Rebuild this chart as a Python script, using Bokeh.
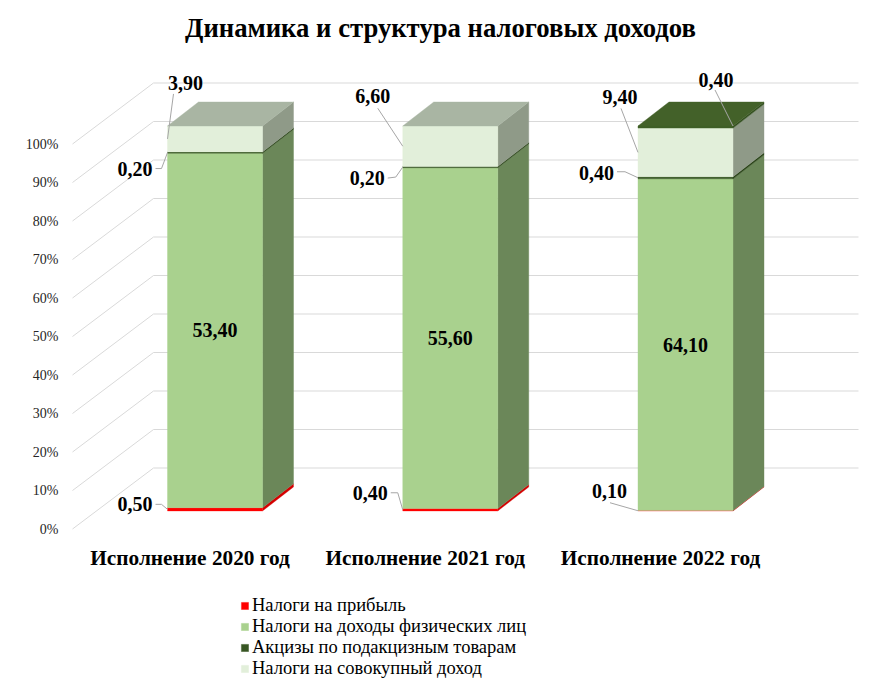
from bokeh.plotting import figure
from bokeh.models import Range1d, FixedTicker, PrintfTickFormatter, Legend, LegendItem, ColumnDataSource
from bokeh.core.properties import value
from bokeh.embed import file_html
from bokeh.resources import INLINE

# ---------------- data ----------------
chart_title = "Динамика и структура налоговых доходов"
categories = ["Исполнение 2020 год", "Исполнение 2021 год", "Исполнение 2022 год"]
series_names = ["Налоги на прибыль", "Налоги на доходы физических лиц",
                "Акцизы по подакцизным товарам", "Налоги на совокупный доход", "Прочие"]
profit_tax = [0.50, 0.40, 0.10]
personal_income_tax = [53.40, 55.60, 64.10]
excises = [0.20, 0.20, 0.40]
aggregate_income_tax = [3.90, 6.60, 9.40]
other_taxes = [0.0, 0.0, 0.40]
y_ticks = [0, 10, 20, 30, 40, 50, 60, 70, 80, 90, 100]
legend_count = 4

series_values = [profit_tax, personal_income_tax, excises, aggregate_income_tax, other_taxes]

# ---------------- style ----------------
FONT = "Liberation Serif"
front_colors = ["#ff0000", "#a9d18e", "#375623", "#e2efda", "#3f5f27"]
side_colors = ["#d40000", "#6b8759", "#2b4519", "#8f9a88", "#33501f"]
top_colors = ["#ff4040", "#8fb077", "#436129", "#a9b5a3", "#436129"]
edge_width = [0.3, 0.4, 0.4, 0.4, 0.4]

W, H = 864, 689
LEFT = 70
XPX = 235.25          # px per category
YPX = 3.85            # px per percent
ORIGIN_X = 214.5      # px of first category centre
ORIGIN_Y = 528.5      # px of 0 % on the front plane (from figure top)

frame_w = W - LEFT
x_start = (LEFT - ORIGIN_X) / XPX
x_end = x_start + frame_w / XPX
y_end = ORIGIN_Y / YPX
y_start = y_end - H / YPX

BW = 95 / XPX
DX = 31 / XPX
DY = 24 / YPX
LIFT = 18 / YPX
WALL_X0 = (72 - ORIGIN_X) / XPX
WALL_DX = 81 / XPX
WALL_DY = 61 / YPX
GRID_X1 = (858 - ORIGIN_X) / XPX

p = figure(width=W, height=H, output_backend="svg", toolbar_location=None,
           x_range=Range1d(x_start, x_end), y_range=Range1d(y_start, y_end),
           min_border_left=LEFT, min_border_right=0, min_border_top=0, min_border_bottom=0)
p.xaxis.visible = False
p.xgrid.visible = False
p.ygrid.visible = False
p.outline_line_color = None
p.background_fill_color = "white"

yax = p.yaxis[0]
yax.ticker = FixedTicker(ticks=y_ticks)
yax.formatter = PrintfTickFormatter(format="%d%%")
yax.axis_line_color = None
yax.major_tick_line_color = None
yax.minor_tick_line_color = None
yax.major_label_standoff = 6
yax.major_label_text_font = FONT
yax.major_label_text_font_size = "14px"
yax.major_label_text_color = "#262626"

# ---------------- grid (side wall + back wall) ----------------
gx, gy = [], []
for t in y_ticks:
    gx.append([WALL_X0, WALL_X0 + WALL_DX, GRID_X1])
    gy.append([t, t + WALL_DY, t + WALL_DY])
p.multi_line(gx, gy, line_color="#d9d9d9", line_width=1)

# ---------------- bars ----------------
n = len(categories)
totals = [sum(s[i] for s in series_values) for i in range(n)]
pct = [[s[i] / totals[i] * 100 for i in range(n)] for s in series_values]

bottoms = [[0.0] * n for _ in series_values]
tops = [[0.0] * n for _ in series_values]
for i in range(n):
    acc = LIFT
    for k in range(len(series_values)):
        bottoms[k][i] = acc
        acc += pct[k][i]
        tops[k][i] = acc

front_renderers = []
for k in range(len(series_values)):
    idx = [i for i in range(n) if series_values[k][i] > 0]
    src = ColumnDataSource(dict(
        left=[i - BW / 2 for i in idx], right=[i + BW / 2 for i in idx],
        bottom=[bottoms[k][i] for i in idx], top=[tops[k][i] for i in idx]))
    sx = [[i + BW / 2, i + BW / 2 + DX, i + BW / 2 + DX, i + BW / 2] for i in idx]
    sy = [[bottoms[k][i], bottoms[k][i] + DY, tops[k][i] + DY, tops[k][i]] for i in idx]
    p.patches(sx, sy, fill_color=side_colors[k], line_color=side_colors[k],
              line_width=edge_width[k])
    r = p.quad(left="left", right="right", bottom="bottom", top="top", source=src,
               fill_color=front_colors[k], line_color=front_colors[k],
               line_width=edge_width[k])
    front_renderers.append(r)

# top faces
tx, ty, tc = [], [], []
for i in range(n):
    top_k = max(k for k in range(len(series_values)) if series_values[k][i] > 0)
    T = tops[top_k][i]
    x0, x1 = i - BW / 2, i + BW / 2
    tx.append([x0, x1, x1 + DX, x0 + DX])
    ty.append([T, T, T + DY, T + DY])
    tc.append(top_colors[top_k])
p.patches(tx, ty, fill_color=tc, line_color=tc, line_width=0.4)

# ---------------- data labels ----------------
def fmt(v):
    return f"{v:.2f}".replace(".", ",")

# (bar, series): label offset px (dx, dy downwards), align, leader points px relative to anchor
placements = {
    (0, 0): ((-15, -5), "right", [(-12, -5), (-6, -5)]),
    (0, 2): ((-15, 16), "right", [(-12, 16), (-6, 16)]),
    (0, 3): ((18, -56), "center", [(6, -45)]),
    (1, 0): ((-15, -17), "right", [(-12, -17), (-5, -17)]),
    (1, 2): ((-18, 11), "right", [(-15, 11), (-7, 10)]),
    (1, 3): ((-30, -50), "center", [(-25, -38)]),
    (2, 0): ((-11, -20), "right", [(-28, -8)]),
    (2, 2): ((-24, -5), "right", [(-21, -6), (-13, -6)]),
    (2, 3): ((-18, -55), "center", [(-17, -44)]),
    (2, 4): ((-17, -46), "center", [(-18, -36)]),
}

lab_x, lab_y, lab_t, lab_xo, lab_yo, lab_align = [], [], [], [], [], []
lx, ly = [], []
for i in range(n):
    for k in range(len(series_values)):
        v = series_values[k][i]
        if v <= 0:
            continue
        if k == 1:
            lab_x.append(i)
            lab_y.append((bottoms[k][i] + tops[k][i]) / 2)
            lab_t.append(fmt(v))
            lab_xo.append(0)
            lab_yo.append(0)
            lab_align.append("center")
            continue
        (ox, oy), al, lead = placements[(i, k)]
        if k == 4:
            ax, ay = i + BW / 2, tops[k][i]
        else:
            ax, ay = i - BW / 2, (bottoms[k][i] + tops[k][i]) / 2
        lab_x.append(ax)
        lab_y.append(ay)
        lab_t.append(fmt(v))
        lab_xo.append(ox)
        lab_yo.append(oy)
        lab_align.append(al)
        lx.append([ax + px / XPX for px, _ in lead] + [ax])
        ly.append([ay - py / YPX for _, py in lead] + [ay])

p.multi_line(lx, ly, line_color="#a6a6a6", line_width=1)
p.text(x="x", y="y", text="t", x_offset="xo", y_offset="yo", text_align="al",
       source=ColumnDataSource(dict(x=lab_x, y=lab_y, t=lab_t, xo=lab_xo, yo=lab_yo, al=lab_align)),
       text_baseline="middle", text_font=value(FONT), text_font_style="bold",
       text_font_size="20px", text_color="black")

# ---------------- category labels ----------------
p.text(x=[i - 25 / XPX for i in range(n)], y=[-29 / YPX] * n, text=categories,
       text_align="center", text_baseline="middle", text_font=value(FONT),
       text_font_style="bold", text_font_size="21.3px", text_color="black")

# ---------------- title ----------------
p.text(x=[(440 - ORIGIN_X) / XPX], y=[(ORIGIN_Y - 27) / YPX], text=[chart_title],
       text_align="center", text_baseline="middle", text_font=value(FONT),
       text_font_style="bold", text_font_size="26.7px", text_color="black")

# ---------------- legend ----------------
legend = Legend(items=[LegendItem(label=series_names[k], renderers=[front_renderers[k]])
                       for k in range(legend_count)],
                location=(170, 10), orientation="vertical",
                glyph_width=9, glyph_height=9, label_standoff=3,
                label_text_font=FONT, label_text_font_size="18.5px", label_height=20,
                label_text_color="black",
                spacing=0, padding=0, margin=0, border_line_color=None,
                background_fill_alpha=0)
p.add_layout(legend)

open("out.html", "w").write(file_html(p, INLINE))
